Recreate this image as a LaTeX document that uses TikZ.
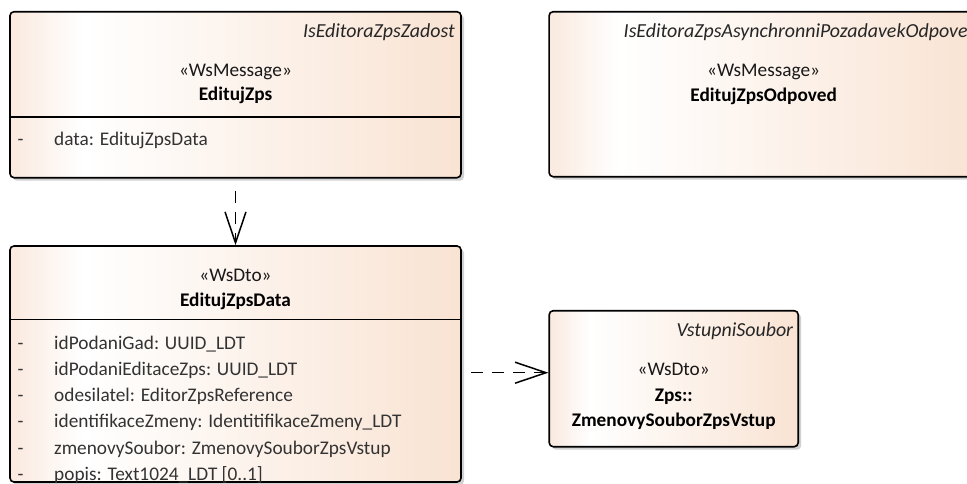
\documentclass[tikz,border=0pt]{standalone}
\usepackage{fontspec}
\setmainfont{Carlito}
\usetikzlibrary{arrows.meta,shadows,positioning}
\definecolor{peachL}{RGB}{250,233,222}
\definecolor{peachR}{RGB}{249,227,211}
\pgfdeclarehorizontalshading{eafill}{100bp}{color(0bp)=(peachL); color(25bp)=(peachL); color(33bp)=(white); color(75bp)=(peachR); color(100bp)=(peachR)}

\begin{document}
\begin{tikzpicture}[x=1pt,y=-1pt,
eabox/.style = {draw=black, line width=1.6pt, rounded corners=4pt, shading=eafill, inner sep=0pt,
  drop shadow={shadow xshift=3pt, shadow yshift=-3pt, fill=black!18, opacity=1}},
eatxt/.style = {font=\fontsize{19.3}{23}\selectfont, text=black!90, inner sep=0pt, anchor=base},
eatitle/.style = {eatxt, font=\fontsize{19.9}{23}\selectfont\itshape, text=black!85, anchor=base east},
eaname/.style = {eatxt, font=\fontsize{19.3}{23}\selectfont\bfseries, text=black},
eaattr/.style = {eatxt, text=black!80, anchor=base west},
dep/.style = {line width=1.5pt, dash pattern=on 12pt off 9pt, -{Straight Barb[length=31pt,width=21pt]}}]
\useasboundingbox (0,0) rectangle (967,483);
\clip (0,0) rectangle (967,483);

% boxes
\node[eabox, minimum width=451pt, minimum height=166pt] (ezps) at (235.5,94.7) {};
\node[eabox, minimum width=451pt, minimum height=236pt] (ezdata) at (235.5,364) {};
\node[eabox, minimum width=429pt, minimum height=165pt] (ezodp) at (763.6,94.2) {};
\node[eabox, minimum width=249pt, minimum height=136pt] (zsoub) at (673.7,378.7) {};

\draw[line width=1.6pt] (10,116.7) -- (461,116.7);
\draw[line width=1.6pt] (10,319.3) -- (461,319.3);

% EditujZps
\node[eatitle] at (455,37.3) {IsEditoraZpsZadost};
\node[eatxt] at (235.5,76) {«WsMessage»};
\node[eaname] at (235.5,100.7) {EditujZps};
\node[eaattr] at (17.5,145.7) {-};
\node[eaattr] at (54,145.7) {data: EditujZpsData};

% EditujZpsData
\node[eatxt] at (235.5,281.7) {«WsDto»};
\node[eaname] at (235.5,306) {EditujZpsData};
\foreach \i/\attr in {0/idPodaniGad: UUID\_LDT,
                      1/idPodaniEditaceZps: UUID\_LDT,
                      2/odesilatel: EditorZpsReference,
                      3/identifikaceZmeny: IdentitifikaceZmeny\_LDT,
                      4/zmenovySoubor: ZmenovySouborZpsVstup,
                      5/popis: Text1024\_LDT [0..1]} {
  \node[eaattr] at (17.5,349.3+26.2*\i) {-};
  \node[eaattr] at (54,349.3+26.2*\i) {\attr};
}

% EditujZpsOdpoved
\node[eatitle] at (978,37.3) {IsEditoraZpsAsynchronniPozadavekOdpoved};
\node[eatxt] at (763.6,76) {«WsMessage»};
\node[eaname] at (763.6,101) {EditujZpsOdpoved};

% ZmenovySouborZpsVstup
\node[eatitle] at (793.3,336.7) {VstupniSoubor};
\node[eatxt] at (673.7,375.7) {«WsDto»};
\node[eaname] at (673.7,401.7) {Zps::};
\node[eaname] at (673.7,426.7) {ZmenovySouborZpsVstup};

% dependencies
\coordinate (depin) at ([yshift=6pt]zsoub.west);
\draw[dep, shorten <=12pt] (ezps) -- (ezdata);
\draw[dep, shorten <=9pt] (ezdata.east |- depin) -- (depin);
\end{tikzpicture}
\end{document}
